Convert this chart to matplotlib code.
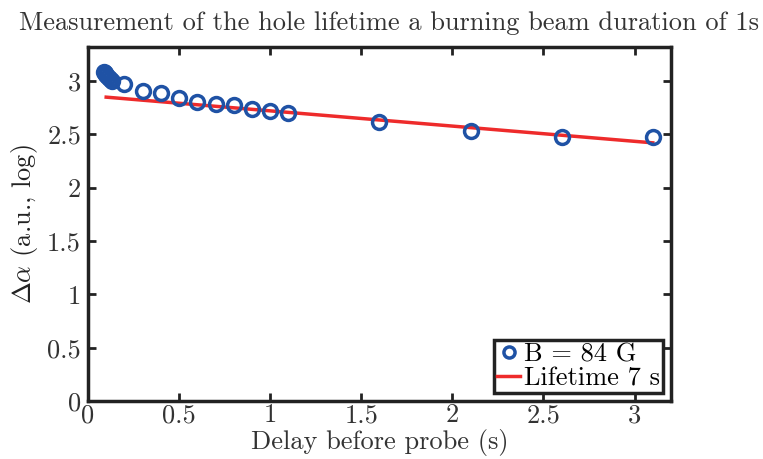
import numpy as np
import matplotlib
matplotlib.use('Agg')
import matplotlib.pyplot as plt

plt.rcParams['font.family'] = ['cmr10', 'DejaVu Serif']
plt.rcParams['mathtext.fontset'] = 'cm'
plt.rcParams['axes.formatter.use_mathtext'] = True

# measured points
delay = [0.09, 0.095, 0.10, 0.11, 0.12, 0.13, 0.2, 0.3, 0.4, 0.5, 0.6, 0.7,
         0.8, 0.9, 1.0, 1.1, 1.6, 2.1, 2.6, 3.1]
dalpha = [3.09, 3.08, 3.06, 3.04, 3.02, 3.00, 2.97, 2.91, 2.89, 2.84, 2.80, 2.79,
          2.775, 2.74, 2.72, 2.70, 2.615, 2.53, 2.48, 2.48]

# exponential fit (log scale -> straight line)
fit_x = [0.1, 3.1]
fit_intercept = 2.864
tau = 7.0

xticks = [0, 0.5, 1, 1.5, 2, 2.5, 3]
yticks = [0, 0.5, 1, 1.5, 2, 2.5, 3]

fig = plt.figure(figsize=(7.63, 4.59), dpi=100)
ax = fig.add_axes([0.1153, 0.1264, 0.7641, 0.7712])

ax.plot(delay, dalpha, 'o', ms=10, mfc='none', mec='#1f52a5', mew=2.5,
        label='B = 84 G', zorder=3)
fx = np.array(fit_x)
ax.plot(fx, fit_intercept - fx / tau, '-', color='#ee2b2b', lw=2.5,
        label='Lifetime 7 s', zorder=2)

ax.set_xlim(0, 3.2)
ax.set_ylim(0, 3.32)
ax.set_xticks(xticks)
ax.set_yticks(yticks)
ax.set_xticklabels([str(t) for t in xticks])
ax.set_yticklabels([str(t) for t in yticks])
ax.tick_params(direction='in', length=6, width=2, top=True, right=True,
               labelsize=19, colors='#222222', labelcolor='#333333')
ax.tick_params(axis='x', pad=2)
ax.tick_params(axis='y', pad=5)
for s in ax.spines.values():
    s.set_linewidth(2.5)
    s.set_color('#222222')

ax.set_xlabel('Delay before probe (s)', fontsize=19, color='#333333', labelpad=1)
ax.set_ylabel(r'$\Delta\alpha$ (a.u., log)', fontsize=19,
              color='#222222', labelpad=5)
ax.set_title('Measurement of the hole lifetime a burning beam duration of 1s',
             fontsize=19, color='#333333', pad=12, x=0.516)

leg = ax.legend(loc='lower right', fontsize=19, handlelength=0.9,
                handletextpad=0.15, borderpad=0.1, borderaxespad=0.3,
                labelspacing=0.0, fancybox=False, framealpha=1,
                edgecolor='#222222', markerscale=0.8)
leg.get_frame().set_linewidth(2.5)

fig.savefig('out.png', dpi=100)
